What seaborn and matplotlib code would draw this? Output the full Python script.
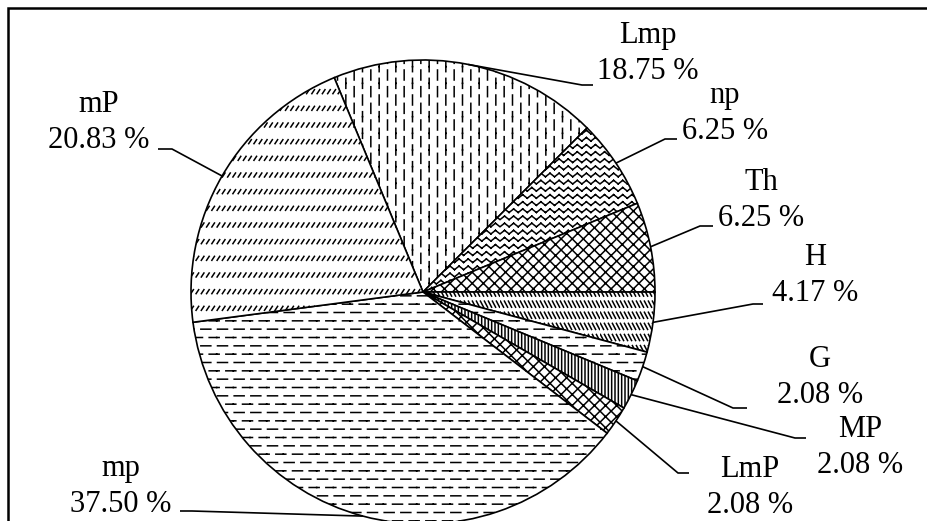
import warnings
import numpy as np
import matplotlib
matplotlib.use("Agg")
import matplotlib.pyplot as plt
import matplotlib.hatch as mhatch
from matplotlib.path import Path
from matplotlib.patches import Rectangle
import seaborn as sns

warnings.simplefilter(action="ignore")

# data (clockwise from the top)
classes = ["Lmp", "np", "Th", "H", "G", "MP", "LmP", "mp", "mP"]
shares = [18.75, 6.25, 6.25, 4.17, 2.08, 2.08, 2.08, 37.50, 20.83]

# hatch code per slice (custom codes defined below, plus built-in ones)
hatches = ["a", "b", "c", "d", "e", "|||||", "xxx", "e", "h"]

# label layout in pixels from the top-left corner:
# text centre x, baseline of the % line, leader elbow, leader end
W, H = 928, 521
label_cx = [648, 725, 761, 815, 820, 860, 750, 121, 99]
label_base = [79, 139, 226, 301, 403, 473, 513, 512, 148]
elbows = [(582, 85), (665, 139), (700, 226), (753, 304), (733, 408),
          (795, 438), (678, 473), (192, 511), (172, 149)]
ends = [(593, 85), (677, 139), (713, 226), (763, 304), (747, 408),
        (806, 438), (689, 473), (180, 511), (158, 149)]
center_px = (423, 292)
radius_px = 232

# --- dashed / wavy hatch tiles: code -> (nx, ny, segments in tile units)
TILES = {
    "a": (6, 6, [(0.25, 0.2, 0.25, 0.8), (0.75, 0.7, 0.75, 1.0),
                 (0.75, 0.0, 0.75, 0.3)]),                        # staggered vertical dashes
    "b": (11, 14, [(0.0, 0.25, 0.5, 0.75), (0.5, 0.75, 1.0, 0.25)]),  # zigzag
    "c": (9, 9, [(0, 0, 1, 1), (0, 1, 1, 0)]),                    # diamonds
    "d": (25, 9, [(0.1, 0.9, 0.9, 0.35)]),                        # short backslashes
    "e": (6, 6, [(0.05, 0.25, 0.65, 0.25), (0.55, 0.75, 1.0, 0.75),
                 (0.0, 0.75, 0.15, 0.75)]),                       # staggered dashes
    "h": (19, 6, [(0.25, 0.38, 0.75, 0.62)]),                     # short slashes
}


class TileHatch(mhatch.HatchPatternBase):
    def __init__(self, hatch, density):
        self.tile = None
        for ch in hatch:
            if ch in TILES:
                self.tile = TILES[ch]
        self.num_vertices = 0
        if self.tile:
            nx, ny, segs = self.tile
            self.num_vertices = nx * ny * len(segs) * 2

    def set_vertices_and_codes(self, vertices, codes):
        nx, ny, segs = self.tile
        k = 0
        for i in range(nx):
            for j in range(ny):
                for x0, y0, x1, y1 in segs:
                    vertices[k] = ((i + x0) / nx, (j + y0) / ny)
                    vertices[k + 1] = ((i + x1) / nx, (j + y1) / ny)
                    codes[k] = Path.MOVETO
                    codes[k + 1] = Path.LINETO
                    k += 2


mhatch._hatch_types.append(TileHatch)

sns.set_style("white")
plt.rcParams["font.family"] = ["Liberation Serif", "DejaVu Serif"]
plt.rcParams["text.color"] = "black"
plt.rcParams["hatch.linewidth"] = 1.1
plt.rcParams["hatch.color"] = "black"

fig = plt.figure(figsize=(W / 100, H / 100), dpi=100)
ax = fig.add_axes([0, 0, 1, 1])

cx, cy = center_px[0], H - center_px[1]
wedges, _ = ax.pie(shares, colors=["white"] * len(shares), hatch=hatches,
                   startangle=112.5, counterclock=False,
                   center=(cx, cy), radius=radius_px,
                   wedgeprops=dict(edgecolor="black", linewidth=1.2))

ax.set_xlim(0, W)
ax.set_ylim(0, H)
ax.set_aspect("equal")
ax.axis("off")

for i, w in enumerate(wedges):
    mid = np.deg2rad((w.theta1 + w.theta2) / 2)
    ax0 = cx + radius_px * np.cos(mid)
    ay0 = cy + radius_px * np.sin(mid)
    ex, ey = elbows[i]
    fx, fy = ends[i]
    ax.plot([ax0, ex, fx], [ay0, H - ey, H - fy], color="black", lw=1.2,
            solid_capstyle="butt", zorder=3)
    ax.text(label_cx[i], H - label_base[i] + 36, classes[i], ha="center",
            va="baseline", fontsize=22, color="black")
    ax.text(label_cx[i], H - label_base[i], f"{shares[i]:.2f} %", ha="center",
            va="baseline", fontsize=22, color="black")

# outer frame (right and bottom edges fall outside the picture)
ax.add_patch(Rectangle((8, -20), W + 40, H - 8 + 20, fill=False,
                       edgecolor="black", lw=1.8, zorder=4))

fig.savefig("out.png", dpi=100)
